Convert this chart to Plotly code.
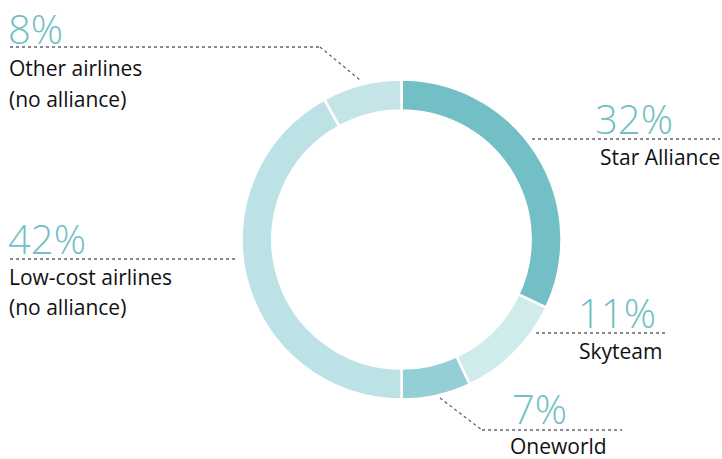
import plotly.graph_objects as go

# Data
labels = ["Star Alliance", "Skyteam", "Oneworld", "Low-cost airlines (no alliance)", "Other airlines (no alliance)"]
values = [32, 11, 7, 42, 8]
pct_text = ["32%", "11%", "7%", "42%", "8%"]
colors = ["#72bfc5", "#d0ebec", "#93cfd5", "#bce2e5", "#c4e4e7"]

W, H = 722, 459

def px(x):
    return x / W

def py(y):
    return 1 - y / H

fig = go.Figure(go.Pie(
    labels=labels, values=values, sort=False, direction="clockwise", rotation=0,
    hole=0.807, textinfo="none", hoverinfo="none",
    marker=dict(colors=colors, line=dict(color="white", width=2.5)),
    domain=dict(x=[px(241.5), px(561.5)], y=[py(399.5), py(79.5)]),
    showlegend=False,
))

PCT_FONT = dict(family="Open Sans", size=40, color="#72bfc5", weight=300)
LBL_FONT = dict(family="Open Sans", size=21, color="#111111")

ann = []
def add(text, x, y, font, xanchor="left"):
    ann.append(dict(text=text, x=px(x), y=py(y), xref="paper", yref="paper",
                    xanchor=xanchor, yanchor="middle", showarrow=False, font=font))

# Other airlines
add(pct_text[4], 6, 28, PCT_FONT)
add("Other airlines", 7, 68, LBL_FONT)
add("(no alliance)", 7, 99, LBL_FONT)
# Star Alliance
add(pct_text[0], 675, 118, PCT_FONT, "right")
add("Star Alliance", 722, 157, LBL_FONT, "right")
# Skyteam
add(pct_text[1], 576, 312, PCT_FONT)
add("Skyteam", 577, 351, LBL_FONT)
# Oneworld
add(pct_text[2], 510, 408, PCT_FONT)
add("Oneworld", 508, 446, LBL_FONT)
# Low-cost
add(pct_text[3], 6, 238, PCT_FONT)
add("Low-cost airlines", 7, 277, LBL_FONT)
add("(no alliance)", 7, 307, LBL_FONT)

LINE = dict(color="#666666", width=1.3, dash="dot")
segs = [
    [(10, 47), (320, 47), (360, 80)],
    [(532, 139), (720, 139)],
    [(536, 333), (668, 333)],
    [(440, 398), (482, 430), (622, 430)],
    [(10, 259), (238, 259)],
]
shapes = []
for seg in segs:
    for (x0, y0), (x1, y1) in zip(seg[:-1], seg[1:]):
        shapes.append(dict(type="line", xref="paper", yref="paper",
                           x0=px(x0), y0=py(y0), x1=px(x1), y1=py(y1), line=LINE))

fig.update_layout(
    width=W, height=H, margin=dict(l=0, r=0, t=0, b=0),
    paper_bgcolor="white", plot_bgcolor="white",
    annotations=ann, shapes=shapes,
)

fig.write_html("out.html")
